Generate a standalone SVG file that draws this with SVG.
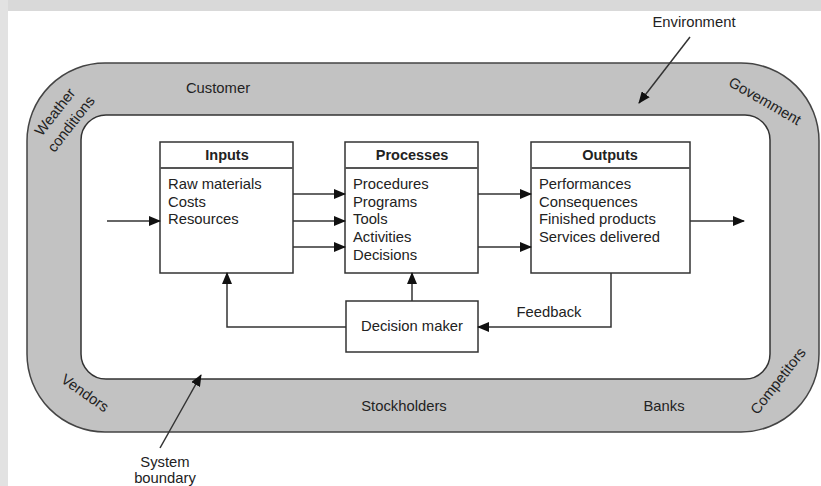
<svg xmlns="http://www.w3.org/2000/svg" width="821" height="486" viewBox="0 0 821 486">
  <style>
    text { font-family: "Liberation Sans", Arial, sans-serif; font-size: 14.8px; fill: #222; }
    .head { font-weight: bold; font-size: 14.5px; text-anchor: middle; }
    .mid { text-anchor: middle; }
    .box { fill: #fff; stroke: #333; stroke-width: 1.5; }
    .sep { stroke: #555; stroke-width: 2; }
    .wire { fill: none; stroke: #333; stroke-width: 1.5; }
  </style>
  <defs>
    <marker id="arrow" markerWidth="12" markerHeight="10" refX="11" refY="5" orient="auto" markerUnits="userSpaceOnUse">
      <path d="M0,0 L12,5 L0,10 Z" fill="#111"/>
    </marker>
  </defs>

  <!-- page frame -->
  <rect x="0" y="0" width="821" height="486" fill="#fff"/>
  <rect x="0" y="0" width="821" height="11" fill="#d9d9d9"/>
  <rect x="0" y="0" width="8" height="486" fill="#e2e2e2"/>

  <!-- environment ring and system boundary -->
  <g id="environment">
    <rect x="27" y="63" width="792" height="369" rx="78" ry="78" fill="#c2c2c2" stroke="#444" stroke-width="1.5"/>
    <text x="694" y="27" class="mid">Environment</text>
    <text x="218" y="93" class="mid">Customer</text>
    <text x="404" y="411" class="mid">Stockholders</text>
    <text x="664" y="411" class="mid">Banks</text>
    <text transform="translate(55,112) rotate(-52)" class="mid" dy="5">Weather</text>
    <text transform="translate(71,124) rotate(-52)" class="mid" dy="5">conditions</text>
    <text transform="translate(765,101) rotate(30)" class="mid" dy="5">Govemment</text>
    <text transform="translate(85,393) rotate(35)" class="mid" dy="5">Vendors</text>
    <text transform="translate(778,381) rotate(-52)" class="mid" dy="5">Competitors</text>
  </g>
  <g id="system">
    <rect x="81" y="115" width="689" height="264" rx="25" ry="25" fill="#fff" stroke="#333" stroke-width="1.5"/>
    <text x="165" y="467" class="mid">System</text>
    <text x="165" y="483" class="mid">boundary</text>
  </g>

  <!-- process blocks -->
  <g id="inputs">
    <rect class="box" x="160" y="142" width="133" height="131"/>
    <line class="sep" x1="160" y1="168" x2="293" y2="168"/>
    <text x="227" y="160" class="head">Inputs</text>
    <text x="168" y="189">Raw materials</text>
    <text x="168" y="206.7">Costs</text>
    <text x="168" y="224.4">Resources</text>
  </g>
  <g id="processes">
    <rect class="box" x="345" y="142" width="133" height="131"/>
    <line class="sep" x1="345" y1="168" x2="478" y2="168"/>
    <text x="412" y="160" class="head">Processes</text>
    <text x="353" y="189">Procedures</text>
    <text x="353" y="206.7">Programs</text>
    <text x="353" y="224.4">Tools</text>
    <text x="353" y="242.1">Activities</text>
    <text x="353" y="259.8">Decisions</text>
  </g>
  <g id="outputs">
    <rect class="box" x="531" y="142" width="159" height="131"/>
    <line class="sep" x1="531" y1="168" x2="690" y2="168"/>
    <text x="610" y="160" class="head">Outputs</text>
    <text x="539" y="189">Performances</text>
    <text x="539" y="206.7">Consequences</text>
    <text x="539" y="224.4">Finished products</text>
    <text x="539" y="242.1">Services delivered</text>
  </g>
  <g id="decision-maker">
    <rect class="box" x="346" y="301" width="132" height="51"/>
    <text x="412" y="331" class="mid">Decision maker</text>
  </g>

  <!-- connectors -->
  <g id="connectors">
    <line class="wire" x1="107" y1="221" x2="160" y2="221" marker-end="url(#arrow)"/>
    <line class="wire" x1="293" y1="194" x2="345" y2="194" marker-end="url(#arrow)"/>
    <line class="wire" x1="293" y1="221" x2="345" y2="221" marker-end="url(#arrow)"/>
    <line class="wire" x1="293" y1="247" x2="345" y2="247" marker-end="url(#arrow)"/>
    <line class="wire" x1="478" y1="194" x2="531" y2="194" marker-end="url(#arrow)"/>
    <line class="wire" x1="478" y1="247" x2="531" y2="247" marker-end="url(#arrow)"/>
    <line class="wire" x1="690" y1="221" x2="744" y2="221" marker-end="url(#arrow)"/>
    <line class="wire" x1="412" y1="301" x2="412" y2="273" marker-end="url(#arrow)"/>
    <polyline class="wire" points="346,327 227,327 227,273" marker-end="url(#arrow)"/>
    <polyline class="wire" points="611,273 611,327 478,327" marker-end="url(#arrow)"/>
    <text x="549" y="317" class="mid">Feedback</text>
    <line class="wire" x1="690" y1="37" x2="639" y2="103" marker-end="url(#arrow)"/>
    <line class="wire" x1="160" y1="448" x2="201" y2="375" marker-end="url(#arrow)"/>
  </g>
</svg>
